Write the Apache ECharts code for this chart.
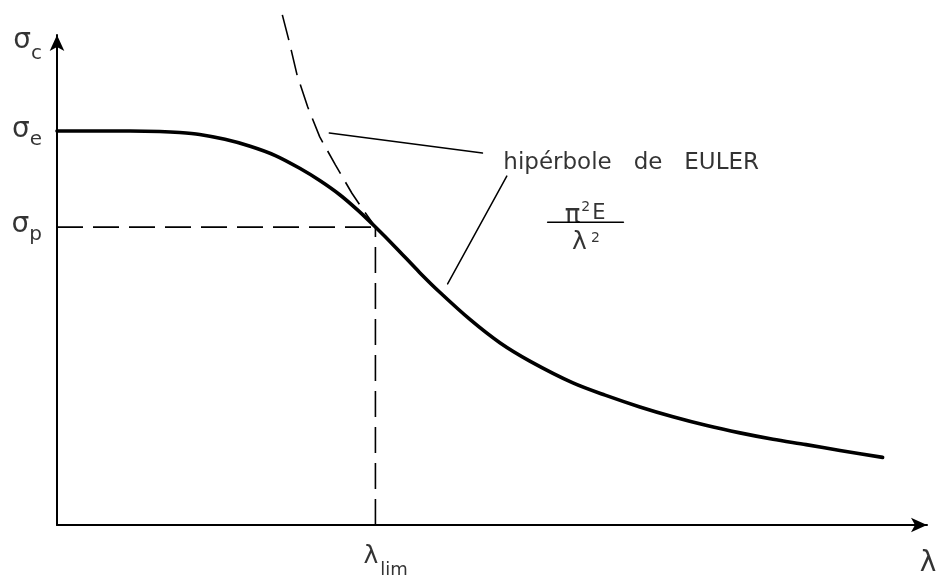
<!DOCTYPE html>
<html>
<head>
<meta charset="utf-8">
<title>Curva de flambagem</title>
<script src="https://cdn.jsdelivr.net/npm/echarts@6.0.0/dist/echarts.min.js"></script>
<style>
  html, body { margin: 0; padding: 0; background: #ffffff; }
  #chart { width: 940px; height: 582px; }
</style>
</head>
<body>
<div id="chart"></div>
<script>
// Characteristic levels (arbitrary units)
const sigmaE = 80.4;      // σe
const sigmaP = 60.8;      // σp
const lambdaLim = 36.6;   // λlim

// Buckling stress curve σc(λ)
const curveLambda = [0, 8.4, 11.8, 14.1, 16.4, 19.3, 22.2, 25.1, 27.9, 30.2, 32.5, 34.6, 36.6, 38.9, 41.7, 44.0, 47.5, 50.9, 54.4, 59.3, 63.0, 67.0, 70.8, 74.7, 78.5, 82.3, 86.1, 90.0, 94.9];
const curveSigma  = [80.4, 80.4, 80.3, 80.1, 79.7, 78.7, 77.3, 75.4, 72.8, 70.3, 67.4, 64.2, 60.8, 56.7, 51.5, 47.5, 41.9, 37.2, 33.4, 29.0, 26.5, 24.1, 22.1, 20.3, 18.8, 17.5, 16.4, 15.2, 13.8];

// Euler hyperbola π²E/λ² (upper branch, down to λlim)
const eulerLambda = [25.9, 26.7, 27.6, 28.8, 30.2, 32.0, 33.9, 35.2, 36.6];
const eulerSigma  = [104.1, 98.6, 91.8, 85.4, 79.2, 73.5, 67.7, 64.3, 60.8];

// Leader lines of the annotation and the fraction bar
const leaderToEuler = [[31.3, 80.0], [48.9, 75.9]];
const leaderToCurve = [[51.7, 71.2], [44.9, 49.2]];
const fractionBar   = [[56.4, 61.8], [65.1, 61.8]];

// Text anchors
const annotationAt  = [51.3, 73.9];
const numeratorAt   = [60.7, 63.9];
const denominatorAt = [60.8, 57.5];
const sigmaCAt      = [0, 100];
const lambdaAxisAt  = [100, 0];

const INK = '#000000';
const FONT = 'DejaVu Sans';

const zip = (xs, ys) => xs.map((x, i) => [x, ys[i]]);

const solid = (data, width, extra) => Object.assign({
  type: 'line', data, symbol: 'none', silent: true, clip: false,
  lineStyle: { color: INK, width, cap: 'round', join: 'round' }
}, extra || {});

const dashed = (data) => ({
  type: 'line', data, symbol: 'none', silent: true, clip: false,
  lineStyle: { color: INK, width: 1.6, type: [26, 10] }
});

const sigmaRich = {
  s:   { fontFamily: FONT, fontSize: 28, lineHeight: 30, color: INK, verticalAlign: 'top' },
  sub: { fontFamily: FONT, fontSize: 20, lineHeight: 20, color: INK, verticalAlign: 'top', padding: [14, 0, 0, 0] },
  subc:{ fontFamily: FONT, fontSize: 20, lineHeight: 20, color: INK, verticalAlign: 'top', padding: [17, 0, 0, 0] }
};

const textItem = (value, formatter, label) => ({
  value,
  label: Object.assign({ show: true, formatter, color: INK, fontFamily: FONT }, label)
});

const texts = [
  textItem(sigmaCAt, '{s|σ}{subc|c}', { position: [-15, 7], align: 'right', verticalAlign: 'middle', rich: sigmaRich }),
  textItem([0, sigmaE], '{s|σ}{sub|e}', { position: [-15, 0], align: 'right', verticalAlign: 'middle', rich: sigmaRich }),
  textItem([0, sigmaP], '{s|σ}{sub|p}', { position: [-15, -1], align: 'right', verticalAlign: 'middle', rich: sigmaRich }),
  textItem([lambdaLim, 0], '{l|λ}{sub|lim}', {
    position: [-12, 19], align: 'left', verticalAlign: 'top',
    rich: {
      l:   { fontFamily: FONT, fontSize: 25, lineHeight: 26, color: INK, verticalAlign: 'top' },
      sub: { fontFamily: FONT, fontSize: 18, lineHeight: 18, color: INK, verticalAlign: 'top', padding: [17, 0, 0, 2] }
    }
  }),
  textItem(lambdaAxisAt, 'λ', { position: [1, 24], align: 'center', verticalAlign: 'top', fontSize: 28, lineHeight: 30 }),
  textItem(annotationAt, 'hipérbole   de   EULER', { position: [0, 0], align: 'left', verticalAlign: 'middle', fontSize: 23, lineHeight: 26 }),
  textItem(numeratorAt, '{p|π}{sup|2}{e|E}', {
    position: [0, 0], align: 'center', verticalAlign: 'middle',
    rich: {
      p:   { fontFamily: FONT, fontSize: 26, lineHeight: 24, color: INK, verticalAlign: 'top', padding: [3, 0, 0, 0] },
      e:   { fontFamily: FONT, fontSize: 21, lineHeight: 24, color: INK, verticalAlign: 'top', padding: [3, 0, 0, 0] },
      sup: { fontFamily: FONT, fontSize: 14, lineHeight: 14, color: INK, verticalAlign: 'top', padding: [0, 2, 0, 1] }
    }
  }),
  textItem(denominatorAt, '{l|λ}{sup|2}', {
    position: [0, 0], align: 'center', verticalAlign: 'middle',
    rich: {
      l:   { fontFamily: FONT, fontSize: 25, lineHeight: 26, color: INK, verticalAlign: 'top' },
      sup: { fontFamily: FONT, fontSize: 14, lineHeight: 14, color: INK, verticalAlign: 'top', padding: [1, 0, 0, 4] }
    }
  })
];

const axisCommon = {
  type: 'value', min: 0, max: 100,
  axisLine: {
    show: true, onZero: false,
    symbol: ['none', 'arrow'], symbolSize: [11, 16],
    lineStyle: { color: INK, width: 2 }
  },
  axisTick: { show: false },
  axisLabel: { show: false },
  splitLine: { show: false }
};

const chart = echarts.init(document.getElementById('chart'), null, { renderer: 'canvas' });
chart.setOption({
  backgroundColor: '#ffffff',
  animation: false,
  grid: { left: 57, right: 13, top: 35, bottom: 57, containLabel: false },
  xAxis: axisCommon,
  yAxis: axisCommon,
  series: [
    dashed([[0, sigmaP], [lambdaLim, sigmaP]]),
    dashed([[lambdaLim, 0], [lambdaLim, sigmaP]]),
    dashed(zip(eulerLambda, eulerSigma)),
    solid(zip(curveLambda, curveSigma), 3.6, { smooth: 0.3 }),
    solid(leaderToEuler, 1.5),
    solid(leaderToCurve, 1.5),
    solid(fractionBar, 1.6),
    {
      type: 'scatter', symbolSize: 0, silent: true, clip: false,
      data: texts
    }
  ]
});
</script>
</body>
</html>
